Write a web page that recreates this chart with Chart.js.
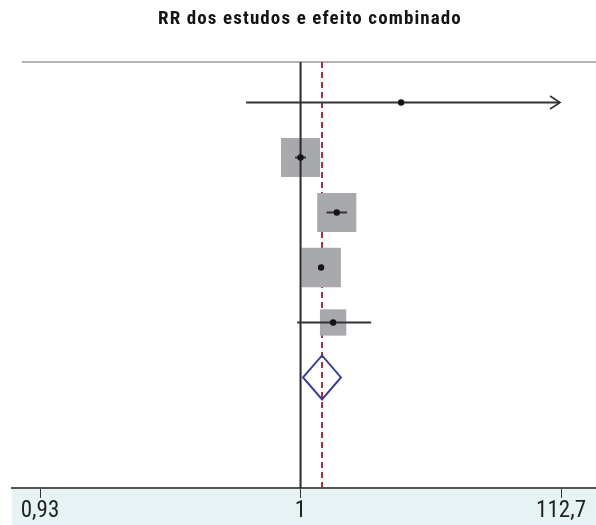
<!DOCTYPE html>
<html>
<head>
<meta charset="utf-8">
<script src="https://cdn.jsdelivr.net/npm/chart.js@4/dist/chart.umd.min.js"></script>
<style>
  html, body { margin: 0; padding: 0; background: #ffffff; }
  #wrap { width: 596px; height: 525px; position: relative; }
</style>
</head>
<body>
<div id="wrap"><canvas id="c" width="596" height="525"></canvas></div>
<script>
// ---- data (x in schematic axis units: -1 = 0,93 ; 0 = 1 ; 1 = 112,7) ----
const chartTitle = 'RR dos estudos e efeito combinado';
const studyRows = [1, 2, 3, 4, 5];
const studyEst  = [0.386, 0.000, 0.139, 0.079, 0.125];
const studyLow  = [-0.209, -0.021, 0.100, 0.070, -0.013];
const studyHigh = [0.996, 0.021, 0.178, 0.090, 0.271];
const studyArrow = [true, false, false, false, false];
const studyWeight = [0.2, 26.5, 26.5, 27.0, 12.0];
const pooledRow = 6;
const pooledEst = 0.0825;
const pooledLow = 0.0096;
const pooledHigh = 0.155;
const nullValue = 0;
const tickValues = [-1, 0, 1];
const tickLabels = ['0,93', '1', '112,7'];

const X_MIN = -1.1075, X_MAX = 1.134;
const Y_MIN = 0.264, Y_MAX = 8.01;
const FONT = "'Liberation Sans Narrow', 'Arial Narrow', 'Roboto Condensed', sans-serif";

const datasets = [];
// dashed pooled line
datasets.push({
  type: 'line', data: [{x: pooledEst, y: Y_MIN}, {x: pooledEst, y: Y_MAX}],
  borderColor: '#a3303f', borderWidth: 2, borderDash: [6, 4], pointRadius: 0, order: 5
});
// squares
datasets.push({
  type: 'scatter',
  data: studyRows.map((r, i) => ({x: studyEst[i], y: r})),
  pointStyle: 'rect',
  pointRadius: studyWeight.map(w => 7.6 * Math.sqrt(w) / Math.SQRT2),
  backgroundColor: '#a7a9ac', borderWidth: 0, order: 4
});
// null line
datasets.push({
  type: 'line', data: [{x: nullValue, y: Y_MIN}, {x: nullValue, y: Y_MAX}],
  borderColor: '#2a2a2a', borderWidth: 2, pointRadius: 0, order: 3
});
// CI lines
studyRows.forEach((r, i) => {
  datasets.push({
    type: 'line', data: [{x: studyLow[i], y: r}, {x: studyHigh[i], y: r}],
    borderColor: '#333333', borderWidth: 2, pointRadius: 0, order: 2
  });
});
// dots
datasets.push({
  type: 'scatter',
  data: studyRows.map((r, i) => ({x: studyEst[i], y: r})),
  pointStyle: 'circle', pointRadius: 3.2,
  backgroundColor: '#151515', borderWidth: 0, order: 0
});

const decor = {
  id: 'decor',
  beforeDraw(chart) {
    const ctx = chart.ctx, a = chart.chartArea;
    ctx.save();
    ctx.fillStyle = '#e7f2f4';
    ctx.fillRect(a.left, a.bottom, a.right - a.left, chart.height - a.bottom);
    ctx.strokeStyle = '#9b9b9b';
    ctx.lineWidth = 1.5;
    ctx.beginPath();
    ctx.moveTo(22, a.top);
    ctx.lineTo(a.right, a.top);
    ctx.stroke();
    ctx.fillStyle = '#151515';
    ctx.font = 'bold 19px ' + FONT;
    if ('letterSpacing' in ctx) ctx.letterSpacing = '1.1px';
    ctx.textAlign = 'center';
    ctx.textBaseline = 'middle';
    ctx.fillText(chartTitle, 310, 19);
    ctx.restore();
  },
  afterDatasetsDraw(chart) {
    const ctx = chart.ctx, xs = chart.scales.x, ys = chart.scales.y;
    ctx.save();
    // arrows
    ctx.strokeStyle = '#333333';
    ctx.lineWidth = 1.6;
    studyRows.forEach((r, i) => {
      if (!studyArrow[i]) return;
      const px = xs.getPixelForValue(studyHigh[i]);
      const py = ys.getPixelForValue(r);
      ctx.beginPath();
      ctx.moveTo(px - 10, py - 6.5);
      ctx.lineTo(px, py);
      ctx.lineTo(px - 10, py + 6.5);
      ctx.stroke();
    });
    // pooled diamond
    const cy = ys.getPixelForValue(pooledRow);
    const h = 22;
    ctx.strokeStyle = '#3b3f94';
    ctx.lineWidth = 2;
    ctx.beginPath();
    ctx.moveTo(xs.getPixelForValue(pooledLow), cy);
    ctx.lineTo(xs.getPixelForValue(pooledEst), cy - h);
    ctx.lineTo(xs.getPixelForValue(pooledHigh), cy);
    ctx.lineTo(xs.getPixelForValue(pooledEst), cy + h);
    ctx.closePath();
    ctx.stroke();
    ctx.restore();
  }
};

new Chart(document.getElementById('c'), {
  type: 'scatter',
  data: { datasets },
  options: {
    responsive: false,
    animation: false,
    events: [],
    layout: { autoPadding: false, padding: { left: 12, right: 0, top: 62, bottom: 0 } },
    plugins: { legend: { display: false }, tooltip: { enabled: false }, title: { display: false } },
    scales: {
      x: {
        type: 'linear', min: X_MIN, max: X_MAX,
        afterBuildTicks(scale) { scale.ticks = tickValues.map(v => ({value: v})); },
        afterFit(scale) {
          scale.height = 37;
          scale.paddingLeft = 0; scale.paddingRight = 0;
          scale.paddingTop = 0; scale.paddingBottom = 0;
        },
        ticks: {
          autoSkip: false, maxRotation: 0, padding: 2,
          color: '#222222',
          font: { family: FONT, size: 23, lineHeight: 1 },
          callback: (v) => { const k = tickValues.indexOf(v); return k >= 0 ? tickLabels[k] : ''; }
        },
        grid: { display: true, drawOnChartArea: false, drawTicks: true, tickLength: 10, color: '#333333', lineWidth: 1 },
        border: { display: true, color: '#555555', width: 2 }
      },
      y: {
        type: 'linear', min: Y_MIN, max: Y_MAX, reverse: true, display: false
      }
    }
  },
  plugins: [decor]
});
</script>
</body>
</html>
